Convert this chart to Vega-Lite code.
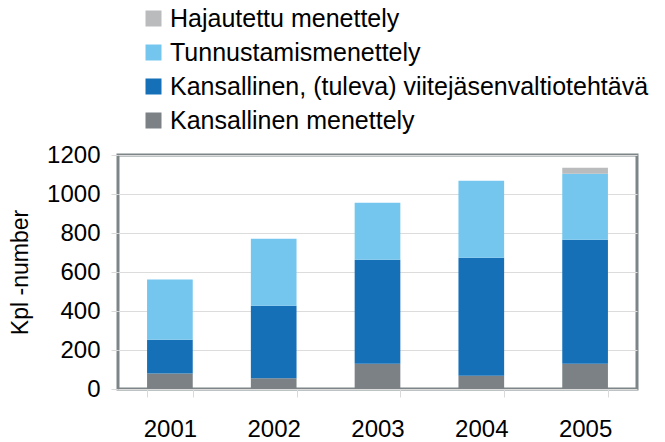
{
  "$schema": "https://vega.github.io/schema/vega-lite/v6.json",
  "width": 519,
  "height": 234,
  "autosize": {"type": "none"},
  "padding": {"left": 118, "top": 155, "right": 28, "bottom": 53},
  "background": "white",
  "config": {
    "font": "Liberation Sans, Arial, sans-serif",
    "view": {"stroke": "#7d8588", "strokeWidth": 3}
  },
  "data": {
    "values": [
      {"year": "2001", "cat": "Kansallinen menettely", "ord": 1, "value": 80},
      {"year": "2001", "cat": "Kansallinen, (tuleva) viitejäsenvaltiotehtävä", "ord": 2, "value": 173},
      {"year": "2001", "cat": "Tunnustamismenettely", "ord": 3, "value": 308},
      {"year": "2001", "cat": "Hajautettu menettely", "ord": 4, "value": 0},
      {"year": "2002", "cat": "Kansallinen menettely", "ord": 1, "value": 55},
      {"year": "2002", "cat": "Kansallinen, (tuleva) viitejäsenvaltiotehtävä", "ord": 2, "value": 372},
      {"year": "2002", "cat": "Tunnustamismenettely", "ord": 3, "value": 344},
      {"year": "2002", "cat": "Hajautettu menettely", "ord": 4, "value": 0},
      {"year": "2003", "cat": "Kansallinen menettely", "ord": 1, "value": 130},
      {"year": "2003", "cat": "Kansallinen, (tuleva) viitejäsenvaltiotehtävä", "ord": 2, "value": 533},
      {"year": "2003", "cat": "Tunnustamismenettely", "ord": 3, "value": 292},
      {"year": "2003", "cat": "Hajautettu menettely", "ord": 4, "value": 0},
      {"year": "2004", "cat": "Kansallinen menettely", "ord": 1, "value": 68},
      {"year": "2004", "cat": "Kansallinen, (tuleva) viitejäsenvaltiotehtävä", "ord": 2, "value": 605},
      {"year": "2004", "cat": "Tunnustamismenettely", "ord": 3, "value": 395},
      {"year": "2004", "cat": "Hajautettu menettely", "ord": 4, "value": 0},
      {"year": "2005", "cat": "Kansallinen menettely", "ord": 1, "value": 130},
      {"year": "2005", "cat": "Kansallinen, (tuleva) viitejäsenvaltiotehtävä", "ord": 2, "value": 636},
      {"year": "2005", "cat": "Tunnustamismenettely", "ord": 3, "value": 338},
      {"year": "2005", "cat": "Hajautettu menettely", "ord": 4, "value": 31}
    ]
  },
  "mark": {"type": "bar"},
  "encoding": {
    "x": {
      "field": "year", "type": "ordinal",
      "scale": {"paddingInner": 0.56, "paddingOuter": 0.28},
      "axis": {
        "title": null, "labelAngle": 0, "domain": false,
        "tickBand": "extent", "tickColor": "#d9d9d9", "tickSize": 8,
        "labelFontSize": 24, "labelColor": "#000", "labelPadding": 20
      }
    },
    "y": {
      "field": "value", "type": "quantitative", "aggregate": "sum", "stack": "zero",
      "scale": {"domain": [0, 1200], "nice": false},
      "axis": {
        "title": "Kpl -number", "titleFontSize": 23, "titleFontWeight": "normal", "titleColor": "#000",
        "titleX": -86,
        "values": [0, 200, 400, 600, 800, 1000, 1200], "format": "d",
        "domain": false, "tickColor": "#d9d9d9", "tickSize": 7,
        "labelFontSize": 24, "labelColor": "#000", "labelPadding": 11,
        "gridColor": "#dcdcdc", "gridWidth": 1
      }
    },
    "color": {
      "field": "cat", "type": "nominal",
      "scale": {
        "domain": ["Hajautettu menettely", "Tunnustamismenettely", "Kansallinen, (tuleva) viitejäsenvaltiotehtävä", "Kansallinen menettely"],
        "range": ["#b9bbbd", "#74c6ee", "#1570b8", "#7b8184"]
      },
      "legend": {
        "title": null, "orient": "none", "legendX": 23, "legendY": -149,
        "symbolType": "square", "symbolSize": 256, "symbolStrokeWidth": 0,
        "labelFontSize": 25, "labelColor": "#000", "labelLimit": 0, "labelOffset": 4,
        "rowPadding": 8
      }
    },
    "order": {"field": "ord", "type": "quantitative"}
  }
}
